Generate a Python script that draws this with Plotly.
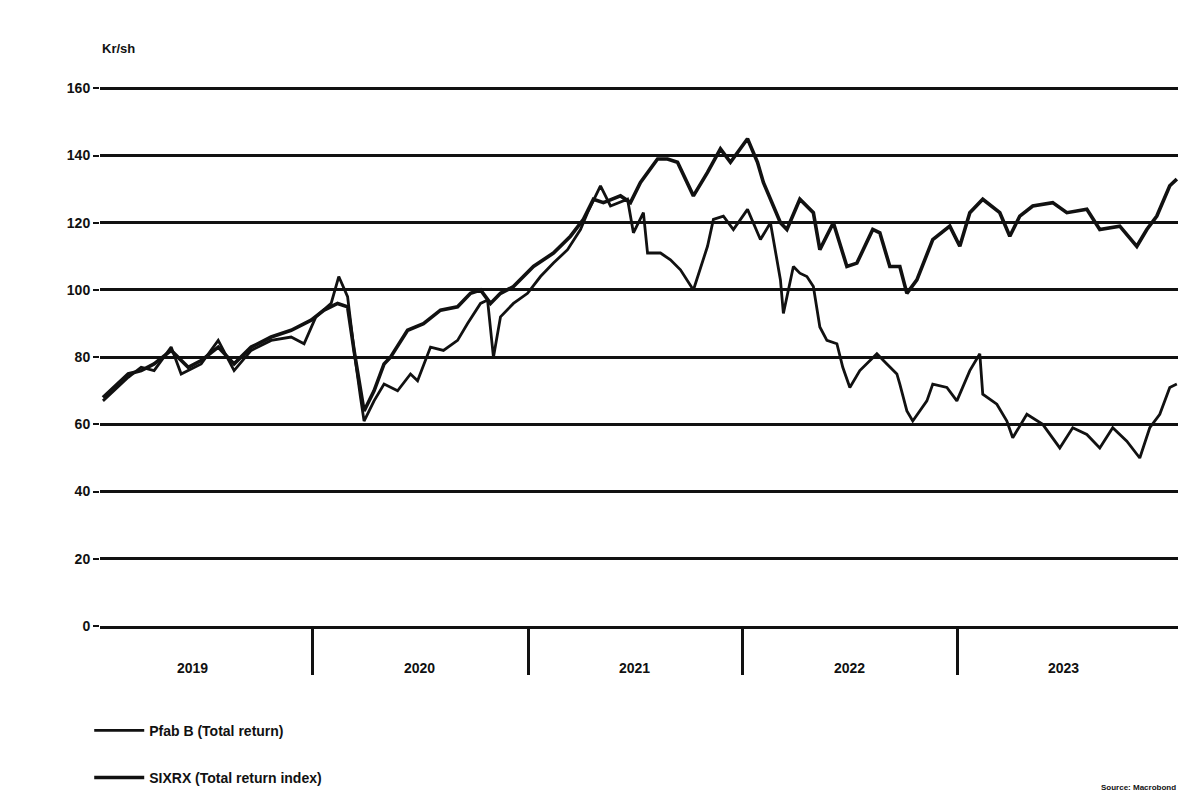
import plotly.graph_objects as go

# Pfab B, total return (rebased)
pfab_dates = [
    "2019-01-09", "2019-01-28", "2019-02-21", "2019-03-15", "2019-04-06", "2019-05-05",
    "2019-05-22", "2019-06-25", "2019-07-24", "2019-08-20", "2019-09-18", "2019-10-22",
    "2019-11-25", "2019-12-17", "2020-01-06", "2020-02-01", "2020-02-14", "2020-02-29",
    "2020-03-11", "2020-03-22", "2020-03-28", "2020-04-14", "2020-05-01", "2020-05-24",
    "2020-06-15", "2020-06-27", "2020-07-19", "2020-08-10", "2020-09-03", "2020-09-20",
    "2020-10-12", "2020-10-24", "2020-11-03", "2020-11-15", "2020-12-07", "2020-12-31",
    "2021-01-22", "2021-02-13", "2021-03-09", "2021-03-31", "2021-04-12", "2021-05-04",
    "2021-05-21", "2021-06-19", "2021-06-29", "2021-07-16", "2021-07-23", "2021-08-14",
    "2021-08-31", "2021-09-17", "2021-10-09", "2021-11-02", "2021-11-12", "2021-11-29",
    "2021-12-16", "2022-01-09", "2022-01-31", "2022-02-17", "2022-03-06", "2022-03-11",
    "2022-03-28", "2022-04-08", "2022-04-20", "2022-05-01", "2022-05-12", "2022-05-24",
    "2022-06-10", "2022-06-20", "2022-07-02", "2022-07-19", "2022-08-17", "2022-09-03",
    "2022-09-20", "2022-09-25", "2022-10-07", "2022-10-17", "2022-11-10", "2022-11-20",
    "2022-12-14", "2022-12-31", "2023-01-22", "2023-02-08", "2023-02-13", "2023-03-09",
    "2023-03-26", "2023-04-05", "2023-04-29", "2023-05-26", "2023-06-24", "2023-07-16",
    "2023-08-09", "2023-08-31", "2023-09-22", "2023-10-16", "2023-11-07", "2023-11-24",
    "2023-12-11", "2023-12-28", "2024-01-09",
]
pfab_values = [
    67, 70, 74, 77, 76, 83,
    75, 78, 85, 76, 82, 85,
    86, 84, 92, 96, 104, 98,
    82, 68, 61, 67, 72, 70,
    75, 73, 83, 82, 85, 90,
    96, 97, 80, 92, 96, 99,
    104, 108, 112, 118, 123, 131,
    125, 127, 117, 123, 111, 111,
    109, 106, 100, 113, 121, 122,
    118, 124, 115, 120, 103, 93,
    107, 105, 104, 101, 89, 85,
    84, 77, 71, 76, 81, 78,
    75, 72, 64, 61, 67, 72,
    71, 67, 76, 81, 69, 66,
    61, 56, 63, 60, 53, 59,
    57, 53, 59, 55, 50, 59,
    63, 71, 72,
]

# SIXRX, total return index (rebased)
sixrx_dates = [
    "2019-01-09", "2019-01-28", "2019-02-21", "2019-03-15", "2019-04-06", "2019-05-05",
    "2019-06-03", "2019-06-25", "2019-07-24", "2019-08-20", "2019-09-18", "2019-10-22",
    "2019-11-25", "2019-12-29", "2020-01-20", "2020-02-12", "2020-02-29", "2020-03-11",
    "2020-03-22", "2020-03-28", "2020-04-14", "2020-05-01", "2020-05-12", "2020-06-10",
    "2020-07-07", "2020-08-05", "2020-09-03", "2020-09-25", "2020-10-12", "2020-10-29",
    "2020-11-15", "2020-12-07", "2021-01-10", "2021-02-13", "2021-03-14", "2021-04-05",
    "2021-04-22", "2021-05-09", "2021-06-07", "2021-06-24", "2021-07-11", "2021-08-09",
    "2021-08-26", "2021-09-12", "2021-10-09", "2021-11-02", "2021-11-24", "2021-12-11",
    "2022-01-09", "2022-01-26", "2022-02-05", "2022-02-22", "2022-03-06", "2022-03-17",
    "2022-04-08", "2022-05-01", "2022-05-12", "2022-06-04", "2022-06-27", "2022-07-14",
    "2022-08-10", "2022-08-22", "2022-09-08", "2022-09-25", "2022-10-07", "2022-10-24",
    "2022-11-20", "2022-12-19", "2023-01-05", "2023-01-22", "2023-02-13", "2023-03-14",
    "2023-03-31", "2023-04-17", "2023-05-09", "2023-06-12", "2023-07-06", "2023-08-09",
    "2023-08-31", "2023-10-04", "2023-11-02", "2023-11-19", "2023-12-06", "2023-12-28",
    "2024-01-09",
]
sixrx_values = [
    68, 71, 75, 76, 78, 82,
    77, 79, 83, 78, 83, 86,
    88, 91, 94, 96, 95, 82,
    70, 64, 70, 78, 80, 88,
    90, 94, 95, 99, 100, 96,
    99, 101, 107, 111, 116, 121,
    127, 126, 128, 126, 132, 139,
    139, 138, 128, 135, 142, 138,
    145, 138, 132, 125, 120, 118,
    127, 123, 112, 120, 107, 108,
    118, 117, 107, 107, 99, 103,
    115, 119, 113, 123, 127, 123,
    116, 122, 125, 126, 123, 124,
    118, 119, 113, 118, 122, 131,
    133,
]

year_bounds = ["2020-01-01", "2021-01-01", "2022-01-01", "2023-01-01"]
year_labels = ["2019", "2020", "2021", "2022", "2023"]
year_label_pos = ["2019-06-10", "2020-07-01", "2021-07-01", "2022-07-01", "2023-07-01"]
y_ticks = [0, 20, 40, 60, 80, 100, 120, 140, 160]

FONT = "Liberation Sans"
INK = "#111111"

fig = go.Figure()
fig.add_trace(go.Scatter(
    x=pfab_dates, y=pfab_values, mode="lines", name="Pfab B (Total return)",
    line=dict(color=INK, width=2.8), legendgroup="a",
))
fig.add_trace(go.Scatter(
    x=sixrx_dates, y=sixrx_values, mode="lines", name="SIXRX (Total return index)",
    line=dict(color=INK, width=3.6), legendgroup="b",
))

annotations = [
    dict(x=d, y=0, xref="x", yref="paper", text=t, showarrow=False,
         yanchor="middle", yshift=-42,
         font=dict(family=FONT, size=14, color=INK, weight="bold"))
    for d, t in zip(year_label_pos, year_labels)
]
annotations.append(dict(
    x=0, y=1, xref="paper", yref="paper", text="Kr/sh", showarrow=False,
    xanchor="left", yanchor="middle", yshift=37,
    font=dict(family=FONT, size=13, color=INK, weight="bold"),
))
annotations.append(dict(
    x=1, y=0, xref="paper", yref="paper", text="Source: Macrobond", showarrow=False,
    xanchor="right", yanchor="middle", yshift=-161,
    font=dict(family=FONT, size=8, color=INK, weight="bold"),
))

fig.update_layout(
    width=1184, height=797,
    margin=dict(l=100, r=6, t=85, b=171, autoexpand=False),
    paper_bgcolor="white", plot_bgcolor="white",
    font=dict(family=FONT, size=14, color=INK, weight="bold"),
    showlegend=True,
    legend=dict(
        x=-0.01, y=-0.164, xanchor="left", yanchor="top",
        orientation="v", tracegroupgap=26, itemwidth=50,
        font=dict(family=FONT, size=14, color=INK, weight="bold"),
        bgcolor="rgba(0,0,0,0)",
    ),
    annotations=annotations,
)
fig.update_xaxes(
    type="date", range=["2019-01-04", "2024-01-11"],
    tickvals=year_bounds, ticktext=["", "", "", ""],
    ticks="outside", ticklen=46, tickwidth=3, tickcolor=INK,
    showgrid=False, zeroline=False,
    showline=True, linecolor=INK, linewidth=3,
)
fig.update_yaxes(
    range=[0, 161], tickvals=y_ticks,
    ticks="outside", ticklen=6, tickwidth=2, tickcolor=INK,
    showgrid=True, gridcolor=INK, gridwidth=3,
    zeroline=False, showline=False,
)

fig.write_html("out.html")
